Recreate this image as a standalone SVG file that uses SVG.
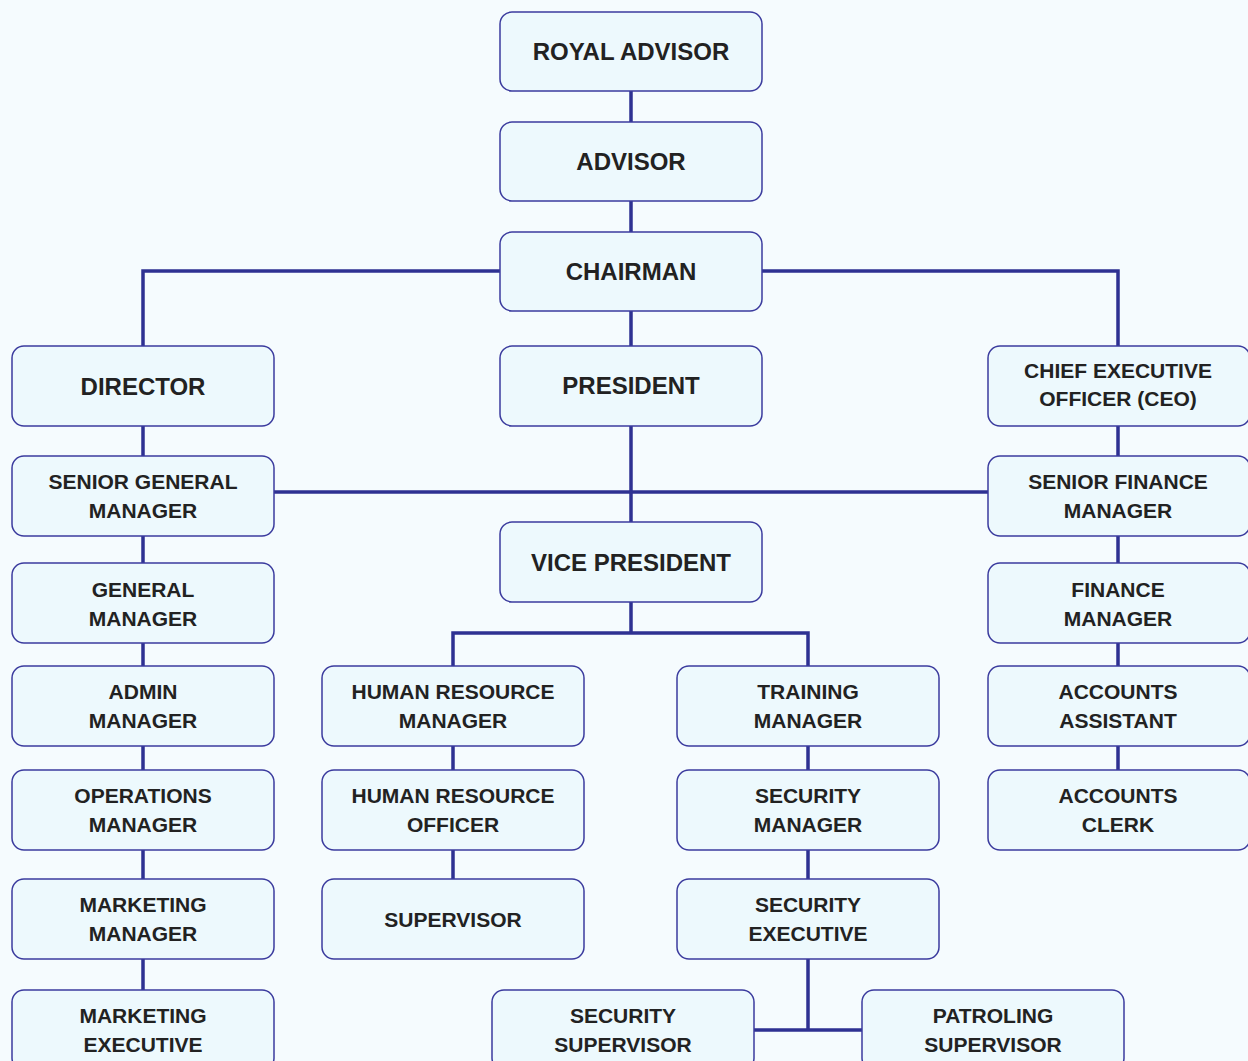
<svg xmlns="http://www.w3.org/2000/svg" width="1248" height="1061" viewBox="0 0 1248 1061">
<style>
.bg{fill:#f5fbfe}
.n rect{fill:#edf9fd;stroke:#3b3b9e;stroke-width:1.5}
.n text{font-family:"Liberation Sans",Arial,sans-serif;font-weight:bold;fill:#222;text-anchor:middle}
.big{font-size:24px}
.sm{font-size:21px}
#connectors path{fill:none;stroke:#2e3192;stroke-width:3.5}
</style>
<rect class="bg" width="1248" height="1061"/>
<g id="connectors">
<path d="M631 91V122M631 201V232M631 311V346"/>
<path d="M500 271H143V346M762 271H1118V346"/>
<path d="M143 426V456M1118 426V456"/>
<path d="M274 492H988"/>
<path d="M631 426V522"/>
<path d="M631 602V633M453 666V633H808V666"/>
<path d="M143 536V563M143 643V666M143 746V770M143 850V879M143 959V990"/>
<path d="M453 746V770M453 850V879"/>
<path d="M808 746V770M808 850V879M808 959V1030M754 1030H862"/>
<path d="M1118 536V563M1118 643V666M1118 746V770"/>
</g>
<g id="royal-advisor" class="n"><rect x="500" y="12" width="262" height="79" rx="12"/><text class="big" x="631" y="60">ROYAL ADVISOR</text></g>
<g id="advisor" class="n"><rect x="500" y="122" width="262" height="79" rx="12"/><text class="big" x="631" y="170">ADVISOR</text></g>
<g id="chairman" class="n"><rect x="500" y="232" width="262" height="79" rx="12"/><text class="big" x="631" y="280">CHAIRMAN</text></g>
<g id="director" class="n"><rect x="12" y="346" width="262" height="80" rx="12"/><text class="big" x="143" y="395">DIRECTOR</text></g>
<g id="president" class="n"><rect x="500" y="346" width="262" height="80" rx="12"/><text class="big" x="631" y="394">PRESIDENT</text></g>
<g id="ceo" class="n"><rect x="988" y="346" width="262" height="80" rx="12"/><text class="sm" x="1118" y="378">CHIEF EXECUTIVE</text><text class="sm" x="1118" y="406">OFFICER (CEO)</text></g>
<g id="senior-general-manager" class="n"><rect x="12" y="456" width="262" height="80" rx="12"/><text class="sm" x="143" y="489">SENIOR GENERAL</text><text class="sm" x="143" y="518">MANAGER</text></g>
<g id="senior-finance-manager" class="n"><rect x="988" y="456" width="262" height="80" rx="12"/><text class="sm" x="1118" y="489">SENIOR FINANCE</text><text class="sm" x="1118" y="518">MANAGER</text></g>
<g id="vice-president" class="n"><rect x="500" y="522" width="262" height="80" rx="12"/><text class="big" x="631" y="571">VICE PRESIDENT</text></g>
<g id="general-manager" class="n"><rect x="12" y="563" width="262" height="80" rx="12"/><text class="sm" x="143" y="597">GENERAL</text><text class="sm" x="143" y="626">MANAGER</text></g>
<g id="finance-manager" class="n"><rect x="988" y="563" width="262" height="80" rx="12"/><text class="sm" x="1118" y="597">FINANCE</text><text class="sm" x="1118" y="626">MANAGER</text></g>
<g id="admin-manager" class="n"><rect x="12" y="666" width="262" height="80" rx="12"/><text class="sm" x="143" y="699">ADMIN</text><text class="sm" x="143" y="728">MANAGER</text></g>
<g id="hr-manager" class="n"><rect x="322" y="666" width="262" height="80" rx="12"/><text class="sm" x="453" y="699">HUMAN RESOURCE</text><text class="sm" x="453" y="728">MANAGER</text></g>
<g id="training-manager" class="n"><rect x="677" y="666" width="262" height="80" rx="12"/><text class="sm" x="808" y="699">TRAINING</text><text class="sm" x="808" y="728">MANAGER</text></g>
<g id="accounts-assistant" class="n"><rect x="988" y="666" width="262" height="80" rx="12"/><text class="sm" x="1118" y="699">ACCOUNTS</text><text class="sm" x="1118" y="728">ASSISTANT</text></g>
<g id="operations-manager" class="n"><rect x="12" y="770" width="262" height="80" rx="12"/><text class="sm" x="143" y="803">OPERATIONS</text><text class="sm" x="143" y="832">MANAGER</text></g>
<g id="hr-officer" class="n"><rect x="322" y="770" width="262" height="80" rx="12"/><text class="sm" x="453" y="803">HUMAN RESOURCE</text><text class="sm" x="453" y="832">OFFICER</text></g>
<g id="security-manager" class="n"><rect x="677" y="770" width="262" height="80" rx="12"/><text class="sm" x="808" y="803">SECURITY</text><text class="sm" x="808" y="832">MANAGER</text></g>
<g id="accounts-clerk" class="n"><rect x="988" y="770" width="262" height="80" rx="12"/><text class="sm" x="1118" y="803">ACCOUNTS</text><text class="sm" x="1118" y="832">CLERK</text></g>
<g id="marketing-manager" class="n"><rect x="12" y="879" width="262" height="80" rx="12"/><text class="sm" x="143" y="912">MARKETING</text><text class="sm" x="143" y="941">MANAGER</text></g>
<g id="supervisor" class="n"><rect x="322" y="879" width="262" height="80" rx="12"/><text class="sm" x="453" y="927">SUPERVISOR</text></g>
<g id="security-executive" class="n"><rect x="677" y="879" width="262" height="80" rx="12"/><text class="sm" x="808" y="912">SECURITY</text><text class="sm" x="808" y="941">EXECUTIVE</text></g>
<g id="marketing-executive" class="n"><rect x="12" y="990" width="262" height="80" rx="12"/><text class="sm" x="143" y="1023">MARKETING</text><text class="sm" x="143" y="1052">EXECUTIVE</text></g>
<g id="security-supervisor" class="n"><rect x="492" y="990" width="262" height="80" rx="12"/><text class="sm" x="623" y="1023">SECURITY</text><text class="sm" x="623" y="1052">SUPERVISOR</text></g>
<g id="patroling-supervisor" class="n"><rect x="862" y="990" width="262" height="80" rx="12"/><text class="sm" x="993" y="1023">PATROLING</text><text class="sm" x="993" y="1052">SUPERVISOR</text></g>
</svg>
